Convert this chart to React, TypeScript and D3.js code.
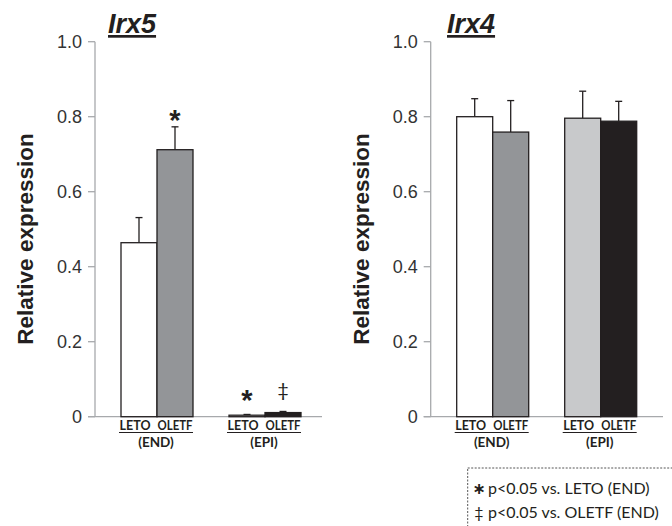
import React from "react";
import * as d3 from "d3";

// ─── Data ─────────────────────────────────────────────────────────────────────
const SLOTS = ["END-LETO", "END-OLETF", "gap", "EPI-LETO", "EPI-OLETF"];
const BAR_KEYS = ["END-LETO", "END-OLETF", "EPI-LETO", "EPI-OLETF"];
const GROUPS = [
  { label: "(END)", keys: ["END-LETO", "END-OLETF"] },
  { label: "(EPI)", keys: ["EPI-LETO", "EPI-OLETF"] },
];
const STRAINS = ["LETO", "OLETF"];

const IRX5_VALUES = [0.464, 0.712, 0.004, 0.011];
const IRX5_ERRORS = [0.067, 0.061, 0.002, 0.003];
const IRX5_MARKS = ["", "*", "*", "‡"];
// height (in data units) where each significance mark is centred
const IRX5_MARK_LEVELS = [0, 0.81, 0.063, 0.071];
const IRX5_COLORS = ["#ffffff", "#939598", "#ffffff", "#231f20"];

const IRX4_VALUES = [0.8, 0.759, 0.796, 0.788];
const IRX4_ERRORS = [0.048, 0.084, 0.072, 0.053];
const IRX4_MARKS = ["", "", "", ""];
const IRX4_MARK_LEVELS = [0, 0, 0, 0];
const IRX4_COLORS = ["#ffffff", "#939598", "#c8c9cb", "#231f20"];

const Y_TICKS = [0, 0.2, 0.4, 0.6, 0.8, 1.0];
const LEGEND = [
  { sym: "∗", text: "p<0.05 vs. LETO (END)" },
  { sym: "‡", text: "p<0.05 vs. OLETF (END)" },
];

// ─── Layout tokens ────────────────────────────────────────────────────────────
const Y_TOP = 41.7;
const Y_BOTTOM = 416.7;
const AXIS_COLOR = "#a7a9ac";
const TEXT_COLOR = "#231f20";
const ARIAL = "Liberation Sans, Arial, sans-serif";
const CALIBRI = "Lato, Carlito, Calibri, sans-serif";
const STRAIN_WIDTHS = [31, 35];

const y = d3.scaleLinear().domain([0, 1]).range([Y_BOTTOM, Y_TOP]);

interface PanelProps {
  axisX: number;
  axisEnd: number;
  title: string;
  titleX: number;
  values: number[];
  errors: number[];
  marks: string[];
  markLevels: number[];
  colors: string[];
}

function Panel({ axisX, axisEnd, title, titleX, values, errors, marks, markLevels, colors }: PanelProps) {
  const x = d3
    .scaleBand<string>()
    .domain(SLOTS)
    .range([axisX + 26, axisX + 26 + SLOTS.length * 36])
    .padding(0);
  const bw = x.bandwidth();

  return (
    <g>
      {/* title */}
      <text
        x={titleX}
        y={33}
        fontFamily={ARIAL}
        fontSize={27}
        fontWeight="bold"
        fontStyle="italic"
        fill={TEXT_COLOR}
        textDecoration="underline"
      >
        {title}
      </text>

      {/* axis */}
      <line x1={axisX} x2={axisX} y1={y(1)} y2={y(0)} stroke={AXIS_COLOR} strokeWidth={1.3} />
      <line x1={axisX - 7} x2={axisEnd} y1={y(0)} y2={y(0)} stroke={AXIS_COLOR} strokeWidth={1.3} />
      {Y_TICKS.map((t) => (
        <g key={t}>
          <line x1={axisX - 7} x2={axisX} y1={y(t)} y2={y(t)} stroke={AXIS_COLOR} strokeWidth={1.3} />
          <text
            x={axisX - 13}
            y={y(t)}
            dy="0.35em"
            textAnchor="end"
            fontFamily={ARIAL}
            fontSize={18}
            fill="#333"
          >
            {t === 0 ? "0" : d3.format(".1f")(t)}
          </text>
        </g>
      ))}

      {/* error bars, then bars */}
      {BAR_KEYS.map((k, i) => {
        const cx = (x(k) as number) + bw / 2;
        const top = y(values[i] + errors[i]);
        return (
          <g key={"e" + k}>
            <line x1={cx} x2={cx} y1={y(values[i])} y2={top} stroke={TEXT_COLOR} strokeWidth={1.3} />
            <line x1={cx - 3.5} x2={cx + 3.5} y1={top} y2={top} stroke={TEXT_COLOR} strokeWidth={1.3} />
          </g>
        );
      })}
      {BAR_KEYS.map((k, i) => (
        <rect
          key={"b" + k}
          x={x(k)}
          y={y(values[i])}
          width={bw}
          height={y(0) - y(values[i])}
          fill={colors[i]}
          stroke={TEXT_COLOR}
          strokeWidth={1.3}
        />
      ))}

      {/* significance marks */}
      {BAR_KEYS.map((k, i) =>
        marks[i] ? (
          <text
            key={"m" + k}
            x={(x(k) as number) + bw / 2}
            y={y(markLevels[i])}
            textAnchor="middle"
            fontFamily={marks[i] === "*" ? ARIAL : CALIBRI}
            fontSize={marks[i] === "*" ? 29 : 20}
            fontWeight={marks[i] === "*" ? "bold" : "normal"}
            fill={TEXT_COLOR}
            dy={marks[i] === "*" ? "0.6em" : "0.33em"}
          >
            {marks[i]}
          </text>
        ) : null,
      )}

      {/* category labels */}
      {GROUPS.map((g) => {
        const x0 = x(g.keys[0]) as number;
        const x1 = (x(g.keys[1]) as number) + bw;
        return (
          <g key={g.label} fontFamily={CALIBRI} fontWeight="bold" fontSize={13.5} fill={TEXT_COLOR}>
            {g.keys.map((k, j) => (
              <text
                key={k}
                x={(x(k) as number) + bw / 2 + (j === 0 ? -4 : 0)}
                y={430}
                textAnchor="middle"
                textLength={STRAIN_WIDTHS[j]}
                lengthAdjust="spacingAndGlyphs"
              >
                {STRAINS[j]}
              </text>
            ))}
            <line x1={x0 - 2} x2={x1} y1={432.5} y2={432.5} stroke={TEXT_COLOR} strokeWidth={1} />
            <text x={(x0 + x1) / 2 - 1} y={447} textAnchor="middle">
              {g.label}
            </text>
          </g>
        );
      })}
    </g>
  );
}

export default function App() {
  return (
    <svg
      width={672}
      height={526}
      style={{ position: "absolute", left: 0, top: 0, background: "#fff" }}
    >
      <text
        transform={`translate(33,239) rotate(-90)`}
        textAnchor="middle"
        fontFamily={ARIAL}
        fontSize={22.5}
        fontWeight="bold"
        fill={TEXT_COLOR}
      >
        Relative expression
      </text>
      <text
        transform={`translate(369,239) rotate(-90)`}
        textAnchor="middle"
        fontFamily={ARIAL}
        fontSize={22.5}
        fontWeight="bold"
        fill={TEXT_COLOR}
      >
        Relative expression
      </text>

      <Panel
        axisX={95}
        axisEnd={322}
        title="Irx5"
        titleX={108}
        values={IRX5_VALUES}
        errors={IRX5_ERRORS}
        marks={IRX5_MARKS}
        markLevels={IRX5_MARK_LEVELS}
        colors={IRX5_COLORS}
      />
      <Panel
        axisX={430.7}
        axisEnd={663}
        title="Irx4"
        titleX={447}
        values={IRX4_VALUES}
        errors={IRX4_ERRORS}
        marks={IRX4_MARKS}
        markLevels={IRX4_MARK_LEVELS}
        colors={IRX4_COLORS}
      />

      {/* legend */}
      <rect
        x={467.7}
        y={468}
        width={240}
        height={80}
        fill="none"
        stroke="#555"
        strokeWidth={1}
        strokeDasharray="2,1.5"
      />
      {LEGEND.map((d, i) => (
        <g key={d.text} fontFamily={CALIBRI} fontSize={16} fill={TEXT_COLOR}>
          <text
            x={479}
            y={493.5 + i * 24.5}
            textAnchor="middle"
            fontFamily={d.sym === "∗" ? "DejaVu Sans, sans-serif" : CALIBRI}
            fontWeight={d.sym === "∗" ? "bold" : "normal"}
          >
            {d.sym}
          </text>
          <text x={488} y={493.5 + i * 24.5}>
            {d.text}
          </text>
        </g>
      ))}
    </svg>
  );
}
